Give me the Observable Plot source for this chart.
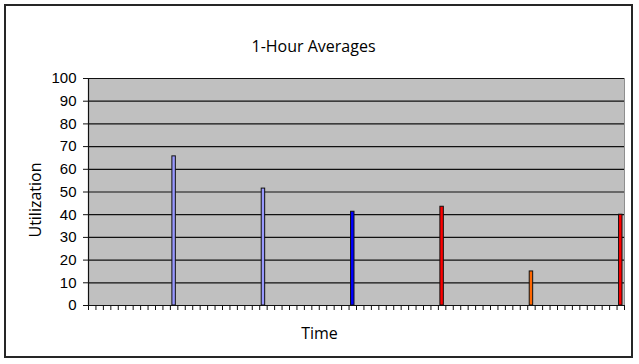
<!DOCTYPE html>
<html>
<head>
<meta charset="utf-8">
<script src="https://cdn.jsdelivr.net/npm/d3@7"></script>
<script src="https://cdn.jsdelivr.net/npm/@observablehq/plot@0.6"></script>
<style>
  html, body { margin: 0; padding: 0; background: #fff; }
</style>
</head>
<body>
<div id="chart"></div>
<script>
// ---- data ----
const title = "1-Hour Averages";
const xLabel = "Time";
const yLabel = "Utilization";
const slotCount = 72;                       // number of time categories on the x axis
const barSlots = [11, 23, 35, 47, 59, 71];  // category index of each bar
const barValues = [65.7, 51.5, 41.3, 43.5, 15, 40];
const barColors = ["#9999FF", "#9999FF", "#0000FF", "#FF0000", "#FF6600", "#FF0000"];
const yTicks = [0, 10, 20, 30, 40, 50, 60, 70, 80, 90, 100];

const bars = barSlots.map((s, i) => ({slot: s, value: barValues[i], color: barColors[i]}));
const slotEdges = d3.range(slotCount + 1);

const W = 639, H = 364;

const border = (index, scales, values, dim) => {
  return d3.create("svg:rect")
    .attr("x", 5).attr("y", 5)
    .attr("width", 627).attr("height", 352)
    .attr("fill", "none").attr("stroke", "#262626").attr("stroke-width", 2)
    .node();
};

const chart = Plot.plot({
  width: W,
  height: H,
  marginTop: 78,
  marginLeft: 88,
  marginRight: 15,
  marginBottom: 59,
  style: {fontFamily: "'Liberation Sans', Arial, sans-serif", background: "#fff"},
  x: {type: "linear", domain: [0, slotCount]},
  y: {domain: [0, 100]},
  marks: [
    border,
    Plot.frame({fill: "#C0C0C0", stroke: "#8f8f8f"}),
    Plot.gridY(yTicks.filter(d => d > 0), {stroke: "#111", strokeOpacity: 1, strokeWidth: 1.2}),
    Plot.rectY(bars, {
      x1: d => d.slot, x2: d => d.slot + 1, y: "value",
      fill: "color", stroke: "#111", strokeWidth: 1,
      insetLeft: 2, insetRight: 2
    }),
    Plot.ruleY([0], {stroke: "#111", strokeWidth: 1.2}),
    Plot.ruleX([0], {stroke: "#111", strokeWidth: 1.2}),
    Plot.axisY({ticks: yTicks, tickSize: 5, tickPadding: 7, fontSize: 15, label: null, stroke: "#111", strokeOpacity: 1, color: "#000"}),
    Plot.axisX({ticks: slotEdges, tickSize: 5, tickFormat: () => "", label: null, stroke: "#111", strokeOpacity: 1}),
    Plot.text([title], {frameAnchor: "top", dx: -43, dy: -38, fontSize: 16, fontFamily: "'Open Sans', 'Noto Sans', sans-serif", fill: "#000"}),
    Plot.text([xLabel], {frameAnchor: "bottom", dx: -37, dy: 33, fontSize: 16, fontFamily: "'Open Sans', 'Noto Sans', sans-serif", fill: "#000"}),
    Plot.text([yLabel], {frameAnchor: "left", textAnchor: "middle", dx: -53, dy: 8, rotate: -90, fontSize: 16, fontFamily: "'Open Sans', 'Noto Sans', sans-serif", fill: "#000"})
  ]
});

document.getElementById("chart").appendChild(chart);
</script>
</body>
</html>
